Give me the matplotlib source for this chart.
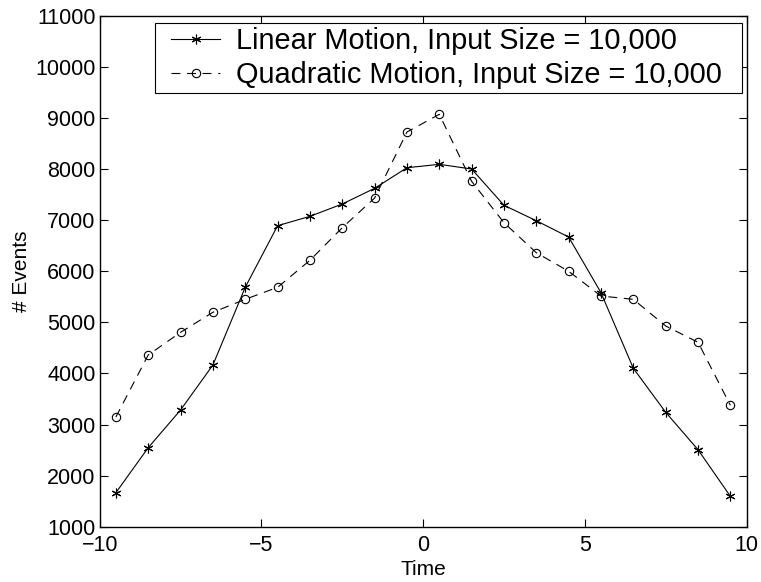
import matplotlib
matplotlib.use("Agg")
import matplotlib.pyplot as plt
from matplotlib.patches import Rectangle

plt.rcParams['font.family'] = ['Liberation Sans', 'DejaVu Sans']

time = [-9.5, -8.5, -7.5, -6.5, -5.5, -4.5, -3.5, -2.5, -1.5, -0.5,
        0.5, 1.5, 2.5, 3.5, 4.5, 5.5, 6.5, 7.5, 8.5, 9.5]
linear_events = [1665, 2546, 3284, 4164, 5685, 6890, 7074, 7315, 7622, 8025,
                 8092, 8000, 7290, 6988, 6669, 5579, 4100, 3239, 2507, 1595]
quadratic_events = [3147, 4360, 4804, 5196, 5450, 5685, 6213, 6851, 7432, 8724,
                    9070, 7759, 6949, 6362, 5998, 5515, 5450, 4928, 4609, 3376]

xticks = [-10, -5, 0, 5, 10]
yticks = list(range(1000, 11001, 1000))

W, H = 761, 582
fig = plt.figure(figsize=(W / 100, H / 100), dpi=100)
ax = fig.add_axes([0.131, 0.095, 0.850, 0.878])

ax.plot(time, linear_events, color='black', linestyle='-', linewidth=0.8,
        marker=(6, 2, 0), markersize=7, markeredgewidth=0.8,
        label='Linear Motion, Input Size = 10,000')
ax.plot(time, quadratic_events, color='black', linestyle=(0, (8, 6)), linewidth=0.8,
        marker='o', markersize=6, markerfacecolor='none', markeredgewidth=0.8,
        label='Quadratic Motion, Input Size = 10,000')

ax.set_xlim(-10, 10)
ax.set_ylim(1000, 11000)
ax.set_xticks(xticks)
ax.set_yticks(yticks)
ax.set_xticklabels([str(t).replace('-', '\u2212') for t in xticks])
ax.tick_params(direction='in', top=True, right=True, length=6, width=0.8,
               labelsize=15.5)
ax.tick_params(axis='x', pad=6)
ax.tick_params(axis='y', pad=3)
for s in ax.spines.values():
    s.set_linewidth(1.0)

ax.set_xlabel('Time', fontsize=15, labelpad=3)
ax.set_ylabel('# Events', fontsize=15, labelpad=3)

leg = fig.legend(*ax.get_legend_handles_labels(), loc='upper right',
                 bbox_to_anchor=(722 / W, 1 - 27 / H), fontsize=20.8, frameon=False,
                 borderpad=0, labelspacing=0.22, handlelength=1.7,
                 handletextpad=0.55, borderaxespad=0)

fig.canvas.draw()
bb = leg.get_window_extent()
pad_l, pad_r, pad_v = 16, 20, 4
frame = Rectangle(((bb.x0 - pad_l) / W, (bb.y0 - pad_v) / H),
                  (bb.width + pad_l + pad_r) / W, (bb.height + 2 * pad_v) / H,
                  transform=fig.transFigure, facecolor='white', edgecolor='black',
                  linewidth=0.8, zorder=4)
fig.add_artist(frame)
leg.set_zorder(5)

fig.savefig('out.png', dpi=100)
